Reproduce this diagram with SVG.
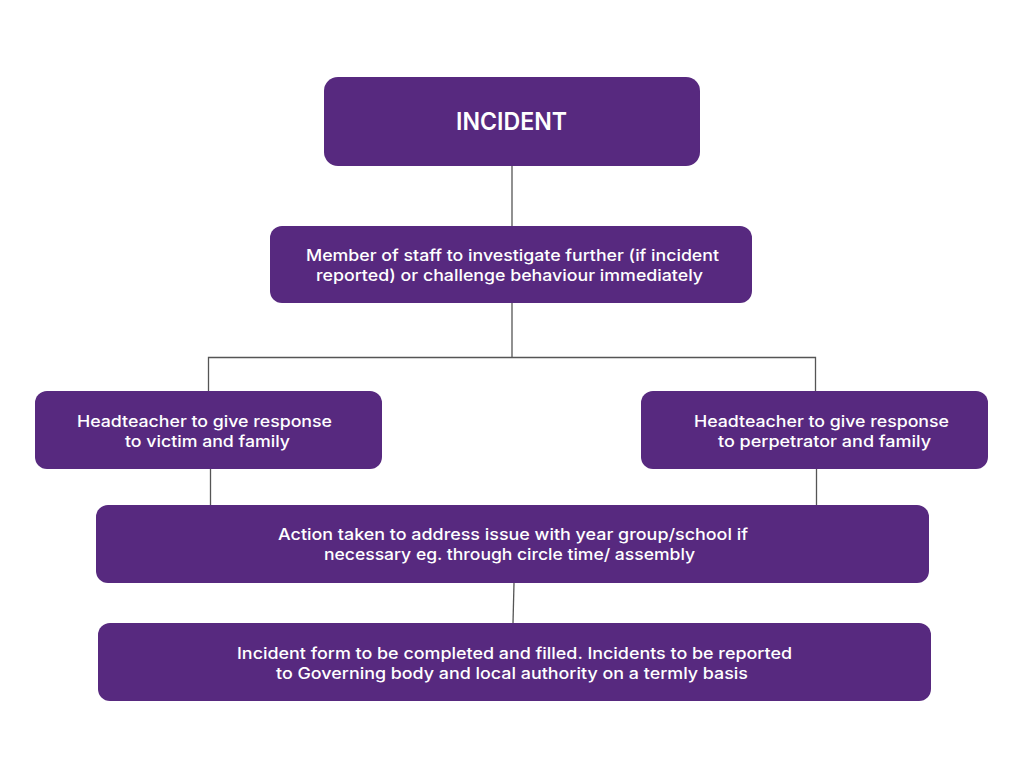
<svg xmlns="http://www.w3.org/2000/svg" width="1024" height="768" viewBox="0 0 1024 768">
<style>
.box{fill:#57297f;}
.t{font-family:Inter,"Open Sans","Noto Sans",sans-serif;font-size:16px;font-weight:500;fill:#ffffff;text-anchor:middle;}
.big{font-size:24px;font-weight:600;}
.c{stroke:#555555;stroke-width:1.3;fill:none;}
</style>
<rect width="1024" height="768" fill="#ffffff"/>
<g id="connectors">
<path class="c" d="M512 166V226"/>
<path class="c" d="M512 303V357"/>
<path class="c" d="M208.5 391V357.5H815.5V391"/>
<path class="c" d="M210.5 469V505"/>
<path class="c" d="M816.5 469V505"/>
<path class="c" d="M514 583L513 623"/>
</g>
<g id="incident">
<rect class="box" x="324" y="77" width="376" height="89" rx="14"/>
<text class="t big" x="511.5" y="130" textLength="111" lengthAdjust="spacingAndGlyphs">INCIDENT</text>
</g>
<g id="staff">
<rect class="box" x="270" y="226" width="482" height="77" rx="12"/>
<text class="t" x="512.5" y="260.5" textLength="413" lengthAdjust="spacingAndGlyphs">Member of staff to investigate further (if incident</text>
<text class="t" x="509.5" y="280.5" textLength="387" lengthAdjust="spacingAndGlyphs">reported) or challenge behaviour immediately</text>
</g>
<g id="victim">
<rect class="box" x="35" y="391" width="347" height="78" rx="12"/>
<text class="t" x="204.5" y="426.5" textLength="255" lengthAdjust="spacingAndGlyphs">Headteacher to give response</text>
<text class="t" x="207.5" y="446.5" textLength="165" lengthAdjust="spacingAndGlyphs">to victim and family</text>
</g>
<g id="perpetrator">
<rect class="box" x="641" y="391" width="347" height="78" rx="12"/>
<text class="t" x="821.5" y="426.5" textLength="255" lengthAdjust="spacingAndGlyphs">Headteacher to give response</text>
<text class="t" x="824.5" y="446.5" textLength="213" lengthAdjust="spacingAndGlyphs">to perpetrator and family</text>
</g>
<g id="action">
<rect class="box" x="96" y="505" width="833" height="78" rx="12"/>
<text class="t" x="513" y="539.5" textLength="470" lengthAdjust="spacingAndGlyphs">Action taken to address issue with year group/school if</text>
<text class="t" x="509.5" y="559.5" textLength="371" lengthAdjust="spacingAndGlyphs">necessary eg. through circle time/ assembly</text>
</g>
<g id="form">
<rect class="box" x="98" y="623" width="833" height="78" rx="12"/>
<text class="t" x="514.5" y="658.5" textLength="555" lengthAdjust="spacingAndGlyphs">Incident form to be completed and filled. Incidents to be reported</text>
<text class="t" x="512" y="678.5" textLength="472" lengthAdjust="spacingAndGlyphs">to Governing body and local authority on a termly basis</text>
</g>
</svg>
